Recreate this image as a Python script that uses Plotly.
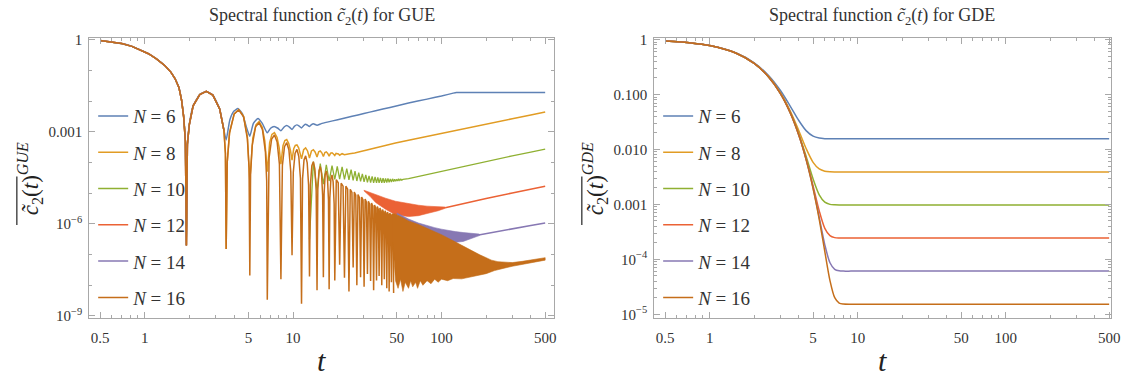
import plotly.graph_objects as go

SERIF = "Liberation Serif, DejaVu Serif, serif"
FRAME = "#a8a8a8"
TXT = "#333333"
W, H = 1136, 383

# ---------------- data: values (log10 of c2) ----------------
N_list = [6, 8, 10, 12, 14, 16]
colors = ["#5E81B5", "#E19C24", "#8FB032", "#EB6235", "#8778B3", "#C56E1A"]

# GUE: early decay and first hump, common to every N
gue_t_common = [0.5, 0.6, 0.7, 0.82, 0.95, 1.06, 1.2, 1.37, 1.5, 1.6, 1.7, 1.77, 1.83, 1.88, 1.91,
                1.94, 2.0, 2.12, 2.35, 2.6, 2.88, 3.2, 3.42]
gue_l_common = [-0.02, -0.07, -0.12, -0.21, -0.34, -0.45, -0.62, -0.84, -1.05, -1.26, -1.55, -1.95, -2.5, -3.3, -6.7,
                -3.4, -2.75, -2.15, -1.78, -1.68, -1.8, -2.25, -2.95]

# N = 6
gue6_t = [3.54, 3.75, 4.0, 4.25, 4.55, 4.85, 5.11, 5.4, 5.8, 6.2, 6.7, 7.05, 7.45, 7.9, 8.28, 8.7, 9.05, 9.45,
          9.84, 10.2, 10.6, 11.0, 11.4, 11.8, 12.15, 12.5, 12.9, 13.3, 13.7, 14.1, 14.5, 15.5, 17, 20, 25, 30,
          36, 45, 60, 80, 100, 120, 126, 132, 200, 300, 500]
gue6_l = [-3.26, -2.6, -2.32, -2.24, -2.4, -2.85, -3.14, -2.72, -2.56, -2.72, -3.03, -2.88, -2.82, -2.88, -2.96,
          -2.84, -2.79, -2.84, -2.92, -2.82, -2.77, -2.81, -2.87, -2.79, -2.75, -2.78, -2.82, -2.76, -2.73, -2.76,
          -2.78, -2.73, -2.68, -2.6, -2.49, -2.4, -2.31, -2.2, -2.06, -1.93, -1.83, -1.735, -1.714, -1.714,
          -1.714, -1.714, -1.714]

# N = 8
gue8_t = [3.5, 3.54, 3.60, 3.73, 4.01, 4.3, 4.64, 4.92, 5.11, 5.35, 5.62, 5.9, 6.2, 6.45, 6.70, 6.95, 7.2, 7.49,
          7.8, 8.05, 8.28, 8.55, 8.8, 9.06, 9.35, 9.6, 9.84, 10.1, 10.35, 10.62, 10.9, 11.15, 11.4, 11.78, 12.15,
          12.52, 12.9, 13.3, 13.7, 14.1, 14.5, 14.88, 15.25, 15.62, 16.0, 16.38, 16.75, 17.12, 17.5, 17.9, 18.3,
          18.7, 19.1, 19.48, 19.85, 20.22, 20.6, 21.4, 22.2, 23, 24, 26, 28, 30, 35, 40, 49, 60, 78.5, 100, 150,
          200, 300, 400, 500]
gue8_l = [-3.7, -6.82, -3.98, -3.03, -2.41, -2.27, -2.49, -3.15, -4.6, -3.2, -2.77, -2.66, -2.85, -3.3, -4.3,
          -3.35, -3.08, -3.02, -3.18, -3.5, -4.05, -3.45, -3.28, -3.25, -3.38, -3.6, -3.92, -3.55, -3.44, -3.42,
          -3.52, -3.7, -3.88, -3.58, -3.52, -3.62, -3.85, -3.62, -3.58, -3.66, -3.82, -3.65, -3.62, -3.68, -3.8,
          -3.67, -3.65, -3.7, -3.79, -3.69, -3.68, -3.72, -3.77, -3.7, -3.7, -3.72, -3.76, -3.71, -3.74, -3.72,
          -3.71, -3.69, -3.65, -3.61, -3.53, -3.46, -3.36, -3.27, -3.15, -3.05, -2.87, -2.75, -2.57, -2.45, -2.35]

# N = 10 : oscillation (peaks and dips), then ramp
gue10_t = [12.9, 13.7, 14.5, 15.25, 16.0, 16.75, 17.5, 18.3, 19.1, 19.85, 20.6, 21.4, 22.2, 23.0, 23.8, 24.6,
           25.4, 26.15, 26.9, 27.7, 28.5, 29.3, 30.1, 30.9, 31.7, 32.5, 33.3, 34.1, 34.9, 35.7, 36.5, 37.25,
           38.0, 38.8, 39.6, 40.4, 41.2, 42.0, 42.8, 43.6, 44.4, 45.2, 46.0, 46.8, 47.6, 48.4, 49.2, 50.0,
           50.8, 51.6, 52.4, 53.2, 54.0, 55, 60, 70, 80, 101, 150, 200, 300, 400, 500]
gue10_l = [-6.5, -3.97, -4.9, -4.03, -4.7, -4.07, -4.6, -4.1, -4.55, -4.12, -4.54, -4.14, -4.55, -4.2, -4.56,
           -4.23, -4.58, -4.28, -4.6, -4.33, -4.61, -4.37, -4.63, -4.4, -4.64, -4.43, -4.65, -4.45, -4.66, -4.47,
           -4.66, -4.48, -4.66, -4.5, -4.66, -4.51, -4.66, -4.52, -4.65, -4.52, -4.64, -4.53, -4.63, -4.53, -4.62,
           -4.54, -4.61, -4.54, -4.6, -4.54, -4.58, -4.54, -4.57, -4.55, -4.52, -4.45, -4.37, -4.26, -4.08, -3.96,
           -3.78, -3.66, -3.56]

# N = 12
gue12_band_t = [30, 33, 36, 42, 49, 60, 70, 80, 95, 106]
gue12_band_hi = [-4.9, -4.98, -5.05, -5.16, -5.26, -5.34, -5.39, -5.42, -5.44, -5.45]
gue12_band_lo = [-4.92, -5.1, -5.3, -5.52, -5.7, -5.76, -5.73, -5.66, -5.57, -5.49]
gue12_late_t = [106, 150, 200, 300, 400, 500]
gue12_late_l = [-5.47, -5.3, -5.17, -4.99, -4.87, -4.77]

# N = 14
gue14_band_t = [50, 55, 60, 70, 80, 90, 100, 110, 124, 140, 160, 180]
gue14_band_hi = [-5.64, -5.74, -5.84, -5.97, -6.06, -6.12, -6.17, -6.21, -6.25, -6.28, -6.31, -6.33]
gue14_band_lo = [-5.7, -5.85, -5.97, -6.12, -6.25, -6.35, -6.45, -6.55, -6.6, -6.57, -6.48, -6.38]
gue14_late_t = [178, 228, 300, 400, 500]
gue14_late_l = [-6.36, -6.26, -6.16, -6.05, -5.97]

# N = 16 : individual humps, then dense band
gue16_t = [3.5, 3.54,
           3.60, 3.73, 4.01, 4.3, 4.64, 4.92, 5.05, 5.11,
           5.17, 5.30, 5.59, 5.9, 6.22, 6.51, 6.64, 6.70,
           6.89, 7.17, 7.49, 7.81, 8.09, 8.28,
           8.47, 8.75, 9.06, 9.37, 9.65, 9.84,
           10.03, 10.31, 10.62, 10.93, 11.21, 11.4,
           11.58, 11.85, 12.15, 12.45, 12.72, 12.9,
           13.09, 13.38, 13.7, 14.02, 14.31, 14.5,
           14.68, 14.95, 15.25, 15.55, 15.82, 16.0,
           16.18, 16.45, 16.75, 17.05, 17.32, 17.5,
           17.69, 17.98, 18.3, 18.62, 18.91, 19.1,
           19.55, 20.15, 20.6, 21.08, 21.72, 22.2, 22.68, 23.32, 23.8, 24.28, 24.92, 25.4,
           25.85, 26.45, 26.9, 27.38, 28.02, 28.5, 28.98, 29.62, 30.1, 30.58, 31.22, 31.7,
           32.18, 32.82, 33.3, 33.78, 34.42, 34.9, 35.38, 36.02, 36.5, 36.95, 37.55, 38.0,
           38.48, 39.12, 39.6, 40.08, 40.72, 41.2, 41.68, 42.32, 42.8, 43.28, 43.92, 44.4,
           44.88, 45.52, 46.0, 46.48, 47.12, 47.6]
gue16_l = [-3.7, -6.82,
           -3.98, -3.03, -2.41, -2.28, -2.51, -3.23, -4.18, -7.68,
           -4.40, -3.45, -2.83, -2.70, -2.93, -3.65, -4.6, -8.47,
           -3.85, -3.23, -3.10, -3.33, -4.05, -7.80,
           -4.10, -3.48, -3.35, -3.58, -4.30, -7.02,
           -4.32, -3.70, -3.57, -3.80, -4.52, -8.6,
           -4.53, -3.91, -3.78, -4.01, -4.73, -7.71,
           -4.72, -4.10, -3.97, -4.20, -4.92, -8.16,
           -4.88, -4.26, -4.13, -4.36, -5.08, -7.74,
           -5.02, -4.40, -4.27, -4.50, -5.22, -8.13,
           -5.15, -4.53, -4.40, -4.63, -5.35, -7.84,
           -4.56, -4.66, -7.33, -4.67, -4.77, -7.75, -4.77, -4.87, -8.2, -4.87, -4.97, -7.42,
           -4.96, -5.06, -8.0, -5.04, -5.14, -7.74, -5.12, -5.22, -8.05, -5.19, -5.29, -7.63,
           -5.26, -5.36, -7.86, -5.32, -5.42, -8.16, -5.38, -5.48, -7.84, -5.43, -5.53, -7.7,
           -5.48, -5.58, -8.0, -5.53, -5.63, -7.8, -5.57, -5.67, -8.1, -5.61, -5.71, -8.2,
           -5.64, -5.74, -7.9, -5.67, -5.77, -8.25]
gue16_band_t_hi = [47, 49, 55, 60, 70, 78, 90, 100, 120, 137, 160, 180, 200, 217, 240, 270, 300, 350, 400, 450, 500]
gue16_band_hi = [-5.66, -5.68, -5.8, -5.9, -6.02, -6.12, -6.25, -6.35, -6.55, -6.7, -6.88, -7.0, -7.1, -7.18,
                 -7.23, -7.25, -7.26, -7.22, -7.17, -7.13, -7.1]
gue16_band_t_lo = [47, 49, 51, 53, 55, 57, 60, 62, 64, 67, 69, 72, 75, 80, 85, 90, 95, 100, 110, 120,
                   137, 150, 170, 200, 228, 260, 300, 340, 380, 420, 460, 500]
gue16_band_lo = [-6.6, -7.85, -8.1, -7.8, -8.2, -7.9, -8.1, -7.85, -8.05, -7.9, -8.1, -7.85, -8.0,
                 -7.85, -7.95, -7.8, -7.9, -7.8, -7.85, -7.78, -7.79, -7.75, -7.7, -7.62, -7.52, -7.45, -7.38,
                 -7.33, -7.29, -7.25, -7.21, -7.18]

# GDE
gde_t = [0.5, 0.75, 1.0, 1.5, 2.0, 2.5, 3.0, 3.5, 4.0, 4.5, 5.0, 5.5, 6.0, 6.5, 7.0, 7.5, 8.0, 9.0, 10, 20, 50,
         100, 200, 500]
gde6_l = [-0.027, -0.060, -0.107, -0.239, -0.423, -0.654, -0.923, -1.210, -1.473, -1.661, -1.756, -1.792,
          -1.803, -1.806, -1.806, -1.806, -1.806, -1.806, -1.806, -1.806, -1.806, -1.806, -1.806, -1.806]
gde8_l = [-0.027, -0.061, -0.108, -0.243, -0.431, -0.672, -0.963, -1.297, -1.655, -1.991, -2.234, -2.355,
          -2.395, -2.406, -2.408, -2.408, -2.408, -2.408, -2.408, -2.408, -2.408, -2.408, -2.408, -2.408]
gde10_l = [-0.027, -0.061, -0.109, -0.244, -0.434, -0.677, -0.974, -1.321, -1.715, -2.137, -2.537, -2.825,
           -2.959, -2.999, -3.008, -3.010, -3.010, -3.010, -3.010, -3.010, -3.010, -3.010, -3.010, -3.010]
gde12_l = [-0.027, -0.061, -0.109, -0.244, -0.434, -0.678, -0.976, -1.328, -1.732, -2.183, -2.663, -3.117,
           -3.435, -3.569, -3.604, -3.611, -3.612, -3.612, -3.612, -3.612, -3.612, -3.612, -3.612, -3.612]
gde14_l = [-0.027, -0.061, -0.109, -0.244, -0.434, -0.679, -0.977, -1.329, -1.736, -2.195, -2.701, -3.236,
           -3.735, -4.061, -4.182, -4.209, -4.214, -4.214, -4.214, -4.214, -4.214, -4.214, -4.214, -4.214]
gde16_l = [-0.027, -0.061, -0.109, -0.244, -0.434, -0.679, -0.977, -1.330, -1.737, -2.198, -2.711, -3.271,
           -3.858, -4.386, -4.698, -4.795, -4.813, -4.816, -4.816, -4.816, -4.816, -4.816, -4.816, -4.816]

# axis ticks
x_major = [0.5, 1, 5, 10, 50, 100, 500]
x_major_txt = ["0.5", "1", "5", "10", "50", "100", "500"]
x_minor = [0.6, 0.7, 0.8, 0.9, 2, 3, 4, 6, 7, 8, 9, 20, 30, 40, 60, 70, 80, 90, 200, 300, 400]
gue_y_major = [1, 1e-3, 1e-6, 1e-9]
gue_y_txt = ["1", "0.001", "10<sup>\u22126</sup>", "10<sup>\u22129</sup>"]
gue_y_minor = [1e-1, 1e-2, 1e-4, 1e-5, 1e-7, 1e-8]
gde_y_major = [1, 0.1, 0.01, 0.001, 1e-4, 1e-5]
gde_y_txt = ["1", "0.100", "0.010", "0.001", "10<sup>\u22124</sup>", "10<sup>\u22125</sup>"]
gde_y_minor = [k * 10.0 ** e for e in range(-5, 0) for k in range(2, 10)]


# ---------------- helpers ----------------
def pw(vals):
    return [None if v is None else 10.0 ** v for v in vals]


def name_of(n):
    return "<i>N</i> = %d" % n


fig = go.Figure()
LW = 1.5


def add_line(t, l, color, n, axis, legend, show=True, shape="linear", width=LW):
    fig.add_trace(go.Scatter(x=t, y=pw(l), mode="lines",
                             line=dict(color=color, width=width, shape=shape, smoothing=0.5),
                             name=name_of(n), legendgroup="g%s%d" % (axis, n),
                             showlegend=show, legend=legend, xaxis="x" + axis, yaxis="y" + axis,
                             hoverinfo="skip"))


def add_band(t_hi, hi, t_lo, lo, color, n, axis):
    xs = list(t_hi) + list(t_lo)[::-1]
    ys = list(hi) + list(lo)[::-1]
    fig.add_trace(go.Scatter(x=xs, y=pw(ys), mode="lines", fill="toself", fillcolor=color,
                             line=dict(color=color, width=0.6), showlegend=False,
                             legendgroup="g%s%d" % (axis, n), xaxis="x" + axis, yaxis="y" + axis,
                             hoverinfo="skip"))


# GUE (left)
add_line(gue_t_common + gue6_t, gue_l_common + gue6_l, colors[0], 6, "", "legend", shape="spline")
add_line(gue_t_common + gue8_t, gue_l_common + gue8_l, colors[1], 8, "", "legend")
add_line(gue_t_common + [None] + gue10_t, gue_l_common + [None] + gue10_l, colors[2], 10, "", "legend",
         width=1.3)
add_line(gue_t_common + [None] + gue12_late_t, gue_l_common + [None] + gue12_late_l, colors[3], 12, "", "legend")
add_band(gue12_band_t, gue12_band_hi, gue12_band_t, gue12_band_lo, colors[3], 12, "")
add_line(gue_t_common + [None] + gue14_late_t, gue_l_common + [None] + gue14_late_l, colors[4], 14, "", "legend")
add_band(gue14_band_t, gue14_band_hi, gue14_band_t, gue14_band_lo, colors[4], 14, "")
add_line(gue_t_common + gue16_t, gue_l_common + gue16_l, colors[5], 16, "", "legend")
add_band(gue16_band_t_hi, gue16_band_hi, gue16_band_t_lo, gue16_band_lo, colors[5], 16, "")

# GDE (right)
for n, l, c in zip(N_list, [gde6_l, gde8_l, gde10_l, gde12_l, gde14_l, gde16_l], colors):
    fig.add_trace(go.Scatter(x=gde_t, y=pw(l), mode="lines", line=dict(color=c, width=LW, shape="spline",
                                                                       smoothing=0.8),
                             name=name_of(n), legendgroup="gde%d" % n, legend="legend2",
                             xaxis="x2", yaxis="y2", hoverinfo="skip"))

# ---------------- layout ----------------
Y0, Y1 = 1 - 322.3 / H, 1 - 32.7 / H
dom_l = [90 / W, 559.3 / W]
dom_r = [660 / W, 1120.5 / W]


def xaxis(domain, rng, anchor):
    return dict(type="log", domain=domain, range=rng, anchor=anchor,
                showline=True, linecolor=FRAME, linewidth=1, mirror="ticks",
                ticks="inside", ticklen=6, tickwidth=1, tickcolor=FRAME,
                tickvals=x_major, ticktext=x_major_txt, ticklabelstandoff=6,
                minor=dict(ticks="inside", ticklen=3, tickcolor=FRAME, tickvals=x_minor, showgrid=False),
                showgrid=False, zeroline=False,
                tickfont=dict(family=SERIF, size=15, color=TXT))


def yaxis(rng, anchor, vals, txt, minor_vals):
    return dict(type="log", domain=[Y0, Y1], range=rng, anchor=anchor,
                showline=True, linecolor=FRAME, linewidth=1, mirror="ticks",
                ticks="inside", ticklen=6, tickwidth=1, tickcolor=FRAME,
                tickvals=vals, ticktext=txt, ticklabelstandoff=3,
                minor=dict(ticks="inside", ticklen=3, tickcolor=FRAME, tickvals=minor_vals, showgrid=False),
                showgrid=False, zeroline=False,
                tickfont=dict(family=SERIF, size=15, color=TXT))


legend_common = dict(xanchor="left", yanchor="top", bgcolor="rgba(0,0,0,0)", borderwidth=0,
                     font=dict(family=SERIF, size=19, color=TXT), tracegroupgap=8.6, itemclick=False)

fig.update_layout(
    width=W, height=H, margin=dict(l=0, r=0, t=0, b=0),
    paper_bgcolor="white", plot_bgcolor="white",
    xaxis=xaxis(dom_l, [-0.374, 2.761], "y"),
    yaxis=yaxis([-9.073, 0.073], "x", gue_y_major, gue_y_txt, gue_y_minor),
    xaxis2=xaxis(dom_r, [-0.3746, 2.709], "y2"),
    yaxis2=yaxis([-5.071, 0.035], "x2", gde_y_major, gde_y_txt, gde_y_minor),
    legend=dict(x=94 / W, y=1 - 94 / H, **legend_common),
    legend2=dict(x=664 / W, y=1 - 94 / H, **legend_common),
    showlegend=True,
)

ann = []
ctilde = "<i>c\u0303</i><sub>2</sub>(<i>t</i>)"
for cx, lab in [((90 + 559.3) / 2, "GUE"), ((660 + 1120.5) / 2, "GDE")]:
    ann.append(dict(text="Spectral function " + ctilde + " for " + lab, x=cx / W, y=1 - 11 / H,
                    xref="paper", yref="paper", showarrow=False, xanchor="center", yanchor="middle",
                    font=dict(family=SERIF, size=18, color=TXT)))
    ann.append(dict(text="<i>t</i>", x=(cx) / W, y=1 - 366 / H, xref="paper", yref="paper",
                    showarrow=False, xanchor="center", yanchor="middle",
                    font=dict(family=SERIF, size=30, color="#222222")))
for xpx, lab in [(30, "GUE"), (600, "GDE")]:
    ann.append(dict(text=ctilde + "<sup><i>" + lab + "</i></sup>", x=xpx / W, y=1 - 178 / H,
                    xref="paper", yref="paper", showarrow=False, textangle=-90,
                    xanchor="center", yanchor="middle",
                    font=dict(family=SERIF, size=23, color="#222222")))
fig.update_layout(annotations=ann)

shapes = []
for xpx in [17, 587]:
    shapes.append(dict(type="line", xref="paper", yref="paper", x0=xpx / W, x1=xpx / W,
                       y0=1 - 226 / H, y1=1 - 176 / H, line=dict(color="#222222", width=1.2)))
fig.update_layout(shapes=shapes)

fig.write_html("out.html")
